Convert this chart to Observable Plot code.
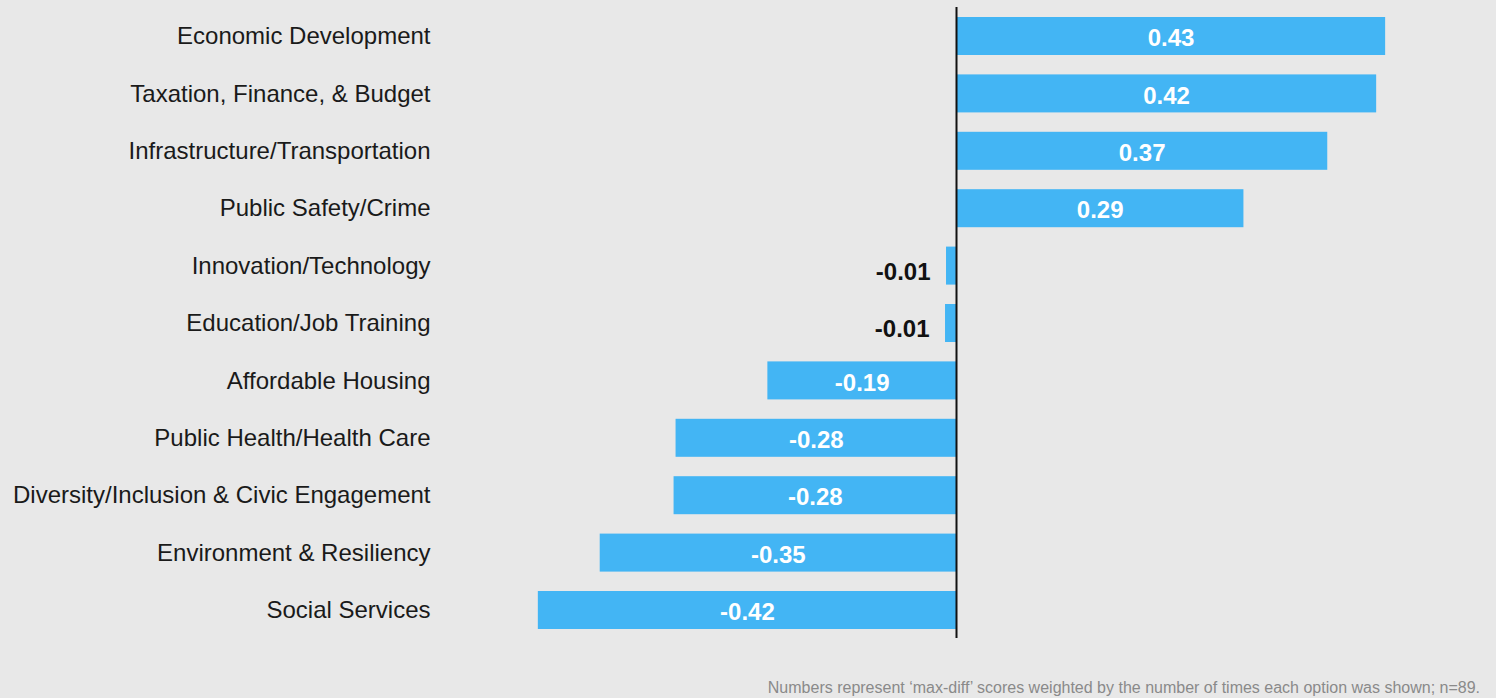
<!DOCTYPE html>
<html>
<head>
<meta charset="utf-8">
<script src="https://cdn.jsdelivr.net/npm/d3@7"></script>
<script src="https://cdn.jsdelivr.net/npm/@observablehq/plot@0.6"></script>
<style>
  html, body { margin: 0; padding: 0; background: #e8e8e8; }
  body { width: 1496px; height: 698px; overflow: hidden; position: relative; font-family: "Liberation Sans", Arial, sans-serif; }
  #chart svg { display: block; }
  #note { position: absolute; right: 16px; top: 679px; font-size: 16px; color: #8a8a8a; font-family: "Liberation Sans", Arial, sans-serif; white-space: nowrap; }
</style>
</head>
<body>
<div id="chart"></div>
<div id="note">Numbers represent ‘max-diff’ scores weighted by the number of times each option was shown; n=89.</div>
<script>
const categories = [
  "Economic Development",
  "Taxation, Finance, & Budget",
  "Infrastructure/Transportation",
  "Public Safety/Crime",
  "Innovation/Technology",
  "Education/Job Training",
  "Affordable Housing",
  "Public Health/Health Care",
  "Diversity/Inclusion & Civic Engagement",
  "Environment & Resiliency",
  "Social Services"
];
const values = [0.430, 0.421, 0.372, 0.288, -0.010, -0.011, -0.189, -0.281, -0.283, -0.357, -0.419];
const valueLabels = ["0.43", "0.42", "0.37", "0.29", "-0.01", "-0.01", "-0.19", "-0.28", "-0.28", "-0.35", "-0.42"];

const data = categories.map((c, i) => ({category: c, value: values[i], label: valueLabels[i]}));
const inside = data.filter(d => Math.abs(d.value) >= 0.05);
const outside = data.filter(d => Math.abs(d.value) < 0.05);

const W = 1496;
const marginLeft = 445;
const zeroX = 956;
const pxPerUnit = 998;
const xMin = -(zeroX - marginLeft) / pxPerUnit;
const xMax = (W - 20 - zeroX) / pxPerUnit;

const chart = Plot.plot({
  width: W,
  height: 650,
  marginLeft: marginLeft,
  marginRight: 20,
  marginTop: 0,
  marginBottom: 0,
  style: {background: "#e8e8e8", fontFamily: "'Liberation Sans', Arial, sans-serif"},
  x: {domain: [xMin, xMax], axis: null},
  y: {domain: categories, padding: 0.338, range: [-2.4, 648.4], round: false, label: null},
  marks: [
    Plot.axisY({tickSize: 0, tickPadding: 15, fontSize: 24, color: "#1a1a1a", label: null}),
    Plot.barX(data, {x: "value", y: "category", fill: "#43b5f4"}),
    Plot.ruleX([0], {stroke: "#111", strokeWidth: 2, insetTop: 7, insetBottom: 12}),
    Plot.text(inside, {
      x: d => d.value / 2, y: "category", text: "label",
      fill: "white", fontWeight: "bold", fontSize: 24, dy: 2
    }),
    Plot.text(outside, {
      x: "value", y: "category", text: "label",
      fill: "#111", fontWeight: "bold", fontSize: 24, textAnchor: "end", dx: -16, dy: 6
    })
  ]
});
document.getElementById("chart").appendChild(chart);
</script>
</body>
</html>
